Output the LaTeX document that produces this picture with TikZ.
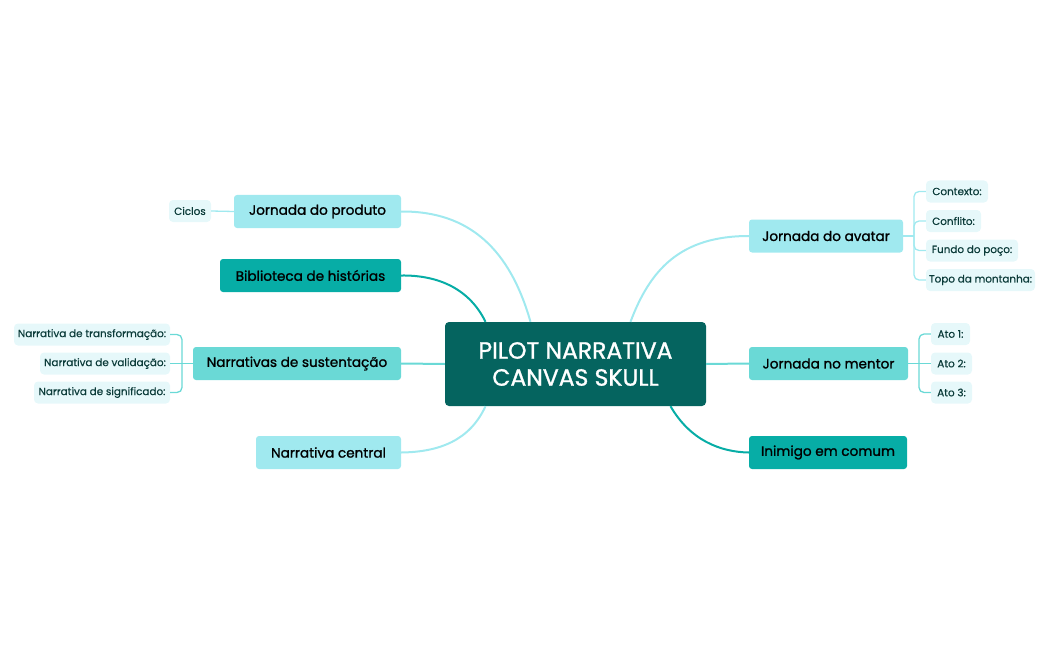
\documentclass[tikz,border=0pt]{standalone}
\usepackage{fontspec}
\setmainfont{Poppins}[FakeBold=0.5,BoldFont=Poppins,BoldFeatures={FakeBold=1.2}]
\definecolor{dark}{HTML}{05645F}
\definecolor{lc}{HTML}{A0E9EF}
\definecolor{mt}{HTML}{6AD9D6}
\definecolor{st}{HTML}{07ADA6}
\definecolor{leaf}{HTML}{E6F8FA}
\definecolor{tx}{HTML}{0B3B39}
\tikzset{
 mainn/.style={rounded corners=3pt, minimum height=33pt, inner sep=0pt, font=\fontsize{13.6}{15}\selectfont\bfseries, text=black},
 leafn/.style={fill=leaf, rounded corners=4pt, minimum height=22pt, inner sep=0pt, font=\fontsize{10.4}{12}\selectfont, text=tx},
 con/.style={line width=2pt},
 lcon/.style={line width=1.3pt}
}
\begin{document}
\begin{tikzpicture}[x=1pt,y=-1pt]
\useasboundingbox (0,0) rectangle (1050,650);
% center
\node[fill=dark, rounded corners=4pt, minimum width=261pt, minimum height=84pt, inner sep=0pt, text=white, align=center, font=\fontsize{23.5}{27}\selectfont\bfseries] (c) at (575.5,364) {PILOT NARRATIVA\\CANVAS SKULL};
% left
\node[mainn, fill=lc, minimum width=167pt] (p) at (317.5,211.5) {Jornada do produto};
\node[leafn, minimum width=42pt] (ci) at (190,211) {Ciclos};
\node[mainn, fill=st, minimum width=181pt] (b) at (310.5,275.5) {Biblioteca de histórias};
\node[mainn, fill=mt, minimum width=208pt] (s) at (297,363.5) {Narrativas de sustentação};
\node[leafn, minimum width=156pt] (l1) at (92,334.5) {Narrativa de transformação:};
\node[leafn, minimum width=130pt] (l2) at (105,363.5) {Narrativa de validação:};
\node[leafn, minimum width=136pt] (l3) at (102,392.5) {Narrativa de significado:};
\node[mainn, fill=lc, minimum width=145pt] (n) at (328.5,452.5) {Narrativa central};
% right
\node[mainn, fill=lc, minimum width=154pt] (a) at (826,236) {Jornada do avatar};
\node[leafn, minimum width=62pt] (a1) at (957,191.5) {Contexto:};
\node[leafn, minimum width=55pt] (a2) at (953.5,221) {Conflito:};
\node[leafn, minimum width=92pt] (a3) at (972,250.5) {Fundo do poço:};
\node[leafn, minimum width=109pt] (a4) at (980.5,280) {Topo da montanha:};
\node[mainn, fill=mt, minimum width=159pt] (m) at (828.5,363.5) {Jornada no mentor};
\node[leafn, minimum width=39pt] (m1) at (950.5,334) {Ato 1:};
\node[leafn, minimum width=41pt] (m2) at (951.5,363.5) {Ato 2:};
\node[leafn, minimum width=41pt] (m3) at (951.5,392.5) {Ato 3:};
\node[mainn, fill=st, minimum width=158pt] (i) at (828,452.5) {Inimigo em comum};
% main connectors
\draw[con, lc] ([xshift=-45pt]c.north) .. controls (510,250) and (470,211) .. (p.east);
\draw[con, st] ([xshift=-90pt]c.north) .. controls (470,290) and (440,275) .. (b.east);
\draw[con, mt] (c.west) -- (s.east);
\draw[con, lc] ([xshift=-90pt]c.south) .. controls (470,440) and (440,452) .. (n.east);
\draw[con, lc] ([xshift=55pt]c.north) .. controls (650,270) and (680,236) .. (a.west);
\draw[con, mt] (c.east) -- (m.west);
\draw[con, st] ([xshift=95pt]c.south) .. controls (690,440) and (720,452) .. (i.west);
% leaf connectors
\draw[lcon, lc] (p.west) -- (ci.east);
\draw[lcon, mt] (s.west) -- (l2.east);
\draw[lcon, mt, rounded corners=5pt] (l1.east) -- (182,334.5) -- (182,392.5) -- (l3.east);
\draw[lcon, lc] (a.east) -- (914,236);
\draw[lcon, lc, rounded corners=5pt] (a1.west) -- (914,191.5) -- (914,280) -- (a4.west);
\draw[lcon, lc, rounded corners=5pt] (a2.west) -- (914,221) -- (914,250.5) -- (a3.west);
\draw[lcon, mt] (m.east) -- (m2.west);
\draw[lcon, mt, rounded corners=5pt] (m1.west) -- (919,334) -- (919,392.5) -- (m3.west);
\end{tikzpicture}
\end{document}
